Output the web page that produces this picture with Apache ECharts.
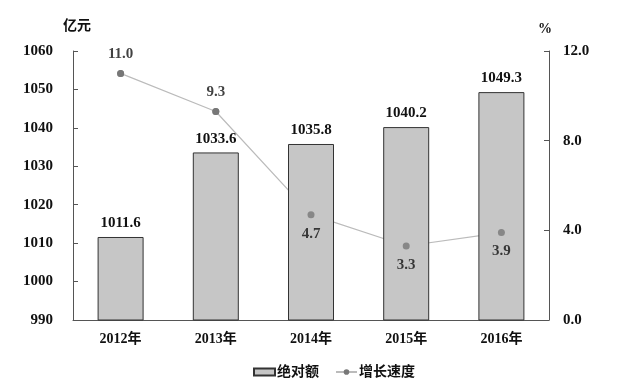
<!DOCTYPE html>
<html><head><meta charset="utf-8">
<script src="https://cdn.jsdelivr.net/npm/echarts@6/dist/echarts.min.js"></script>
<style>html,body{margin:0;padding:0;background:#fff}#c{width:618px;height:387px}</style>
</head><body><div id="c"></div>
<script>
var categories = ['2012年','2013年','2014年','2015年','2016年'];
var amountValues = [1011.6, 1033.6, 1035.8, 1040.2, 1049.3];
var growthValues = [11.0, 9.3, 4.7, 3.3, 3.9];
var growthLabelPos = ['top','top','bottom','bottom','bottom'];
var leftTicks = [990, 1060, 10];
var rightTicks = [0, 12, 4];

var serif = '"Liberation Serif", "Times New Roman", "Noto Sans CJK SC", serif';
var cjk = '"Liberation Serif", "Noto Sans CJK SC", sans-serif';
var chart = echarts.init(document.getElementById('c'));
chart.setOption({
  animation: false,
  backgroundColor: '#fff',
  grid: {left: 73, right: 69, top: 51, bottom: 67},
  legend: {
    top: 360, left: 248, itemGap: 16, itemWidth: 21, itemHeight: 7,
    textStyle: {fontFamily: cjk, fontSize: 14, fontWeight: 'bold', color: '#111', padding: [0, 0, 0, -3]},
    data: [{name: '绝对额', icon: 'rect'}, {name: '增长速度'}]
  },
  xAxis: {
    type: 'category', data: categories,
    axisLine: {lineStyle: {color: '#555', width: 1}},
    axisTick: {inside: true, length: 4, lineStyle: {color: '#555'}},
    axisLabel: {fontFamily: cjk, fontSize: 14, fontWeight: 'bold', color: '#111', margin: 12}
  },
  yAxis: [{
    type: 'value', min: leftTicks[0], max: leftTicks[1], interval: leftTicks[2],
    name: '亿元', nameLocation: 'end', nameGap: 18,
    nameTextStyle: {fontFamily: cjk, fontSize: 14, fontWeight: 'bold', color: '#111', align: 'center', padding: [0, 0, 0, 8]},
    axisLine: {show: true, lineStyle: {color: '#555'}},
    axisTick: {show: true, inside: true, length: 5, lineStyle: {color: '#555'}},
    splitLine: {show: false},
    axisLabel: {fontFamily: serif, fontSize: 15, fontWeight: 'bold', color: '#111', margin: 20,
      formatter: function (v) { return String(v); }}
  }, {
    type: 'value', min: rightTicks[0], max: rightTicks[1], interval: rightTicks[2],
    name: '%', nameLocation: 'end', nameGap: 15,
    nameTextStyle: {fontFamily: cjk, fontSize: 14, fontWeight: 'bold', color: '#111', align: 'center', padding: [0, 8, 0, 0]},
    axisLine: {show: true, lineStyle: {color: '#555'}},
    axisTick: {show: true, inside: true, length: 5, lineStyle: {color: '#555'}},
    splitLine: {show: false},
    axisLabel: {fontFamily: serif, fontSize: 15, fontWeight: 'bold', color: '#111', margin: 14,
      formatter: function (v) { return v.toFixed(1); }}
  }],
  series: [{
    name: '增长速度', type: 'line', yAxisIndex: 1, z: 1,
    data: growthValues,
    symbol: 'circle', symbolSize: 7,
    itemStyle: {color: '#777'},
    lineStyle: {color: '#bbb', width: 1.2}
  }, {
    name: '绝对额', type: 'bar', z: 2, barWidth: 46,
    data: amountValues,
    itemStyle: {color: '#c6c6c6', borderColor: '#333', borderWidth: 1},
    label: {show: true, position: 'top', distance: 6, fontFamily: serif, fontSize: 15, fontWeight: 'bold', color: '#111',
      formatter: function (p) { return p.value.toFixed(1); }}
  }, {
    name: 'growthMarkers', type: 'scatter', yAxisIndex: 1, z: 3,
    data: growthValues.map(function (v, i) {
      return {value: v, label: {position: growthLabelPos[i]}};
    }),
    symbol: 'circle', symbolSize: 7,
    itemStyle: {color: '#777'},
    label: {show: true, distance: 8, fontFamily: serif, fontSize: 15, fontWeight: 'bold', color: '#111',
      formatter: function (p) { return p.value.toFixed(1); }}
  }]
});
</script></body></html>
